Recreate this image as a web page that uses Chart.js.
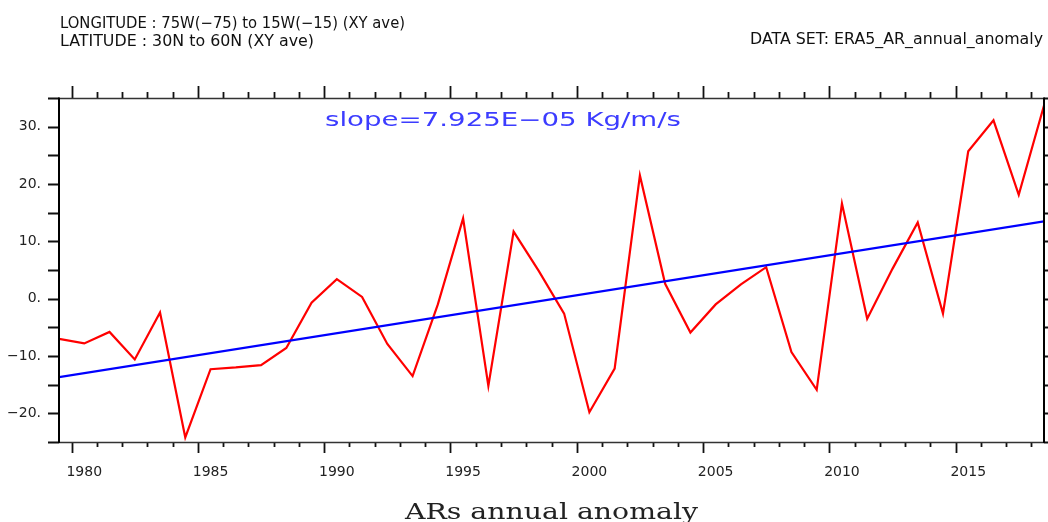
<!DOCTYPE html>
<html>
<head>
<meta charset="utf-8">
<script src="https://cdn.jsdelivr.net/npm/chart.js@4.4.0/dist/chart.umd.min.js"></script>
<style>
  html, body { margin: 0; padding: 0; background: #fff; }
  #wrap { width: 1048px; height: 522px; }
</style>
</head>
<body>
<div id="wrap"><canvas id="c" width="1048" height="522"></canvas></div>
<script>
// ---- data ----
const years = [1979,1980,1981,1982,1983,1984,1985,1986,1987,1988,
               1989,1990,1991,1992,1993,1994,1995,1996,1997,1998,
               1999,2000,2001,2002,2003,2004,2005,2006,2007,2008,
               2009,2010,2011,2012,2013,2014,2015,2016,2017,2018];
const anomaly = [-7.0,-7.8,-5.8,-10.6,-2.4,-24.2,-12.3,-12.0,-11.6,-8.6,
                 -0.7,3.4,0.3,-7.9,-13.5,-1.0,14.0,-15.2,11.7,4.8,
                 -2.6,-19.8,-12.2,21.5,2.6,-5.9,-1.0,2.5,5.5,-9.3,
                 -15.9,16.6,-3.5,5.2,13.3,-2.6,25.7,31.1,18.1,33.7];
const trendYears = [1979, 2018];
const trendValues = [-13.7, 13.5];
const xTickLabels = [1980,1985,1990,1995,2000,2005,2010,2015];
const yTickLabels = [-20,-10,0,10,20,30];
const yMinorTicks = [-25,-20,-15,-10,-5,0,5,10,15,20,25,30,35];
const slopeText = 'slope=7.925E\u221205 Kg/m/s';
const headerLine1 = 'LONGITUDE : 75W(\u221275) to 15W(\u221215) (XY ave)';
const headerLine2 = 'LATITUDE : 30N to 60N (XY ave)';
const headerRight = 'DATA SET: ERA5_AR_annual_anomaly';
const titleText = 'ARs annual anomaly';

function fitText(ctx, text, x, baseline, width, font, color) {
  ctx.save();
  ctx.font = font;
  ctx.fillStyle = color;
  ctx.textBaseline = 'alphabetic';
  ctx.textAlign = 'left';
  const w = ctx.measureText(text).width;
  ctx.translate(x, baseline);
  ctx.scale(width / w, 1);
  ctx.fillText(text, 0, 0);
  ctx.restore();
}

const framePlugin = {
  id: 'frame',
  afterDatasetsDraw(chart) {
    const ctx = chart.ctx;
    const a = chart.chartArea;
    const xs = chart.scales.x, ys = chart.scales.y;
    ctx.save();
    ctx.strokeStyle = '#111';
    ctx.lineCap = 'butt';
    // x ticks (top and bottom), placed half a year before each labelled year
    ctx.lineWidth = 1.8;
    for (const yr of years) {
      if (yr === years[0]) continue;
      const px = Math.round(xs.getPixelForValue(yr - 0.5)) + 0.5;
      const major = yr % 5 === 0;
      ctx.beginPath();
      ctx.moveTo(px, a.bottom); ctx.lineTo(px, a.bottom + (major ? 11 : 5));
      ctx.moveTo(px, a.top); ctx.lineTo(px, a.top - (major ? 12 : 6));
      ctx.stroke();
    }
    // y ticks left and right
    for (const v of yMinorTicks) {
      const py = Math.round(ys.getPixelForValue(v)) + 0.5;
      ctx.beginPath();
      ctx.moveTo(a.left, py); ctx.lineTo(a.left - 11, py);
      ctx.moveTo(a.right, py); ctx.lineTo(a.right + 5, py);
      ctx.stroke();
    }
    // frame
    ctx.lineWidth = 1.4;
    ctx.strokeStyle = '#333';
    ctx.beginPath();
    ctx.moveTo(a.left, a.top + 0.5); ctx.lineTo(a.right, a.top + 0.5);
    ctx.moveTo(a.left, a.bottom + 0.5); ctx.lineTo(a.right, a.bottom + 0.5);
    ctx.stroke();
    ctx.lineWidth = 2;
    ctx.strokeStyle = '#000';
    ctx.beginPath();
    ctx.moveTo(a.left, a.top - 0.5); ctx.lineTo(a.left, a.bottom + 1);
    ctx.moveTo(a.right, a.top - 0.5); ctx.lineTo(a.right, a.bottom + 1);
    ctx.stroke();
    ctx.restore();

    // texts
    fitText(ctx, slopeText, 325, 126, 356, '19px "DejaVu Sans"', '#3c3cff');
    fitText(ctx, headerLine1, 60, 28, 345, '15px "DejaVu Sans"', '#111');
    fitText(ctx, headerLine2, 60, 45.5, 254, '15px "DejaVu Sans"', '#111');
    fitText(ctx, headerRight, 750, 44, 293, '15px "DejaVu Sans"', '#111');
    fitText(ctx, titleText, 405, 519, 293, '22px "DejaVu Serif"', '#222');
  }
};

new Chart(document.getElementById('c'), {
  type: 'line',
  data: {
    datasets: [
      {
        label: 'trend',
        data: trendYears.map((x, i) => ({ x, y: trendValues[i] })),
        borderColor: '#0000ff',
        borderWidth: 2.2,
        pointRadius: 0,
        tension: 0,
        order: 0
      },
      {
        label: 'anomaly',
        data: years.map((x, i) => ({ x, y: anomaly[i] })),
        borderColor: '#ff0000',
        borderWidth: 2.2,
        pointRadius: 0,
        tension: 0,
        order: 1
      }
    ]
  },
  options: {
    responsive: false,
    devicePixelRatio: 1,
    animation: false,
    events: [],
    layout: { padding: { left: 0, right: 4, top: 98, bottom: 0 } },
    plugins: { legend: { display: false }, tooltip: { enabled: false }, title: { display: false } },
    scales: {
      x: {
        type: 'linear',
        min: 1979,
        max: 2018,
        grid: { display: false },
        border: { display: false },
        afterBuildTicks: s => { s.ticks = xTickLabels.map(v => ({ value: v })); },
        afterFit: s => { s.height = 80; },
        ticks: {
          autoSkip: false,
          maxRotation: 0,
          padding: 14,
          color: '#222',
          font: { family: 'DejaVu Sans', size: 14 },
          callback: v => String(v)
        }
      },
      y: {
        type: 'linear',
        min: -25,
        max: 35,
        grid: { display: false },
        border: { display: false },
        afterBuildTicks: s => { s.ticks = yTickLabels.map(v => ({ value: v })); },
        afterFit: s => { s.width = 59; },
        ticks: {
          padding: 10,
          color: '#222',
          font: { family: 'DejaVu Sans', size: 14 },
          callback: v => (v < 0 ? '\u2212' : '') + Math.abs(v) + '.'
        }
      }
    }
  },
  plugins: [framePlugin]
});
</script>
</body>
</html>
